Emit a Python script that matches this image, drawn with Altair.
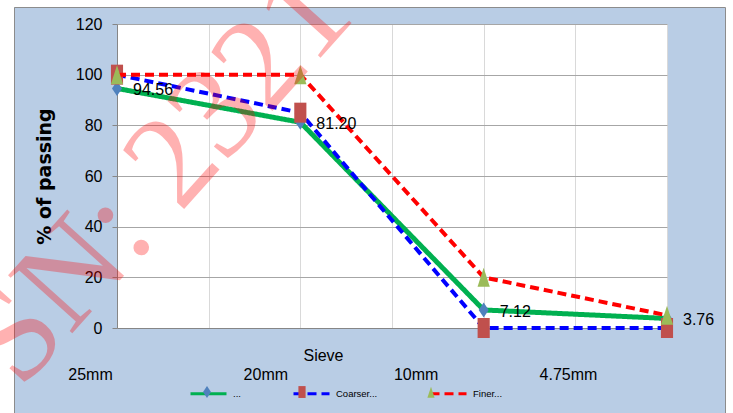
import json
import altair as alt
import pandas as pd

# ---------------- data ----------------
sieves = ["25mm", "20mm", "10mm", "4.75mm"]
series_names = ["...", "Coarser...", "Finer..."]
marker_keys = ["m0", "m1", "m2"]
sample_passing = [94.56, 81.20, 7.12, 3.76]
coarser_limit = [100, 85, 0, 0]
finer_limit = [100, 100, 20, 5]
y_ticks = [0, 20, 40, 60, 80, 100, 120]
x_grid = [0, 0.5, 1, 1.5, 2, 2.5, 3]
watermark = "SN: 2321"

rows = []
for name, key, vals in zip(series_names, marker_keys, [sample_passing, coarser_limit, finer_limit]):
    for i, v in enumerate(vals):
        rows.append({"idx": i, "series": name, "mk": key, "value": v})
df = pd.DataFrame(rows)

# ---------------- styles ----------------
SANS = "Liberation Sans, Arial, sans-serif"
line_colors = ["#00B050", "#0000FF", "#FF0000"]
marker_colors = ["#4F81BD", "#C0504D", "#9BBB59"]
dashes = [[1, 0], [9, 5], [9, 5]]
line_widths = [5, 4, 4]
marker_paths = [
    "M0,-0.33L0.22,0L0,0.33L-0.22,0Z",
    "M-0.2,-0.33L0.2,-0.33L0.2,0.33L-0.2,0.33Z",
    "M0,-0.31L0.2,0.31L-0.2,0.31Z",
]
marker_sizes = [2061, 3672, 3745]

W, H = 550, 304

x_enc = alt.X(
    "idx:Q",
    scale=alt.Scale(domain=[0, 3], nice=False, zero=False),
    axis=alt.Axis(
        values=x_grid,
        labelExpr=f"datum.value % 1 == 0 ? {json.dumps(sieves)}[datum.value] : ''",
        labelOffset=alt.ExprRef(expr="datum.value == 0 ? -27 : datum.value == 1 ? -35 : datum.value == 2 ? -68 : -99"),
        labelFlush=False,
        labelOverlap=False,
        labelBound=False,
        labelPadding=46,
        labelBaseline="middle",
        labelFont=SANS,
        labelFontSize=16,
        labelColor="black",
        ticks=False,
        gridColor="#D9D9D9",
        domainColor="#868686",
        title="Sieve",
        titleFont=SANS,
        titleFontSize=16,
        titleFontWeight="normal",
        titleColor="black",
        titleX=206,
        titleY=27,
        titleAlign="center",
        titleBaseline="middle",
    ),
)
y_enc = alt.Y(
    "value:Q",
    scale=alt.Scale(domain=[0, 120], nice=False),
    axis=alt.Axis(
        values=y_ticks,
        labelFont=SANS,
        labelFontSize=16,
        labelColor="black",
        labelPadding=10,
        tickSize=5,
        tickColor="#868686",
        domainColor="#868686",
        gridColor="#A6A6A6",
        title="% of passing",
        titleFont="DejaVu Sans",
        titleFontSize=19,
        titleFontWeight="bold",
        titleColor="black",
        titleAngle=270,
        titleX=-73,
        titleY=152,
        titleAlign="center",
        titleBaseline="middle",
    ),
)

legend_common = dict(
    orient="none", legendX=72, legendY=350, direction="horizontal", title=None,
    symbolSize=1296, labelFont=SANS, labelFontSize=9.5, labelOffset=5,
    columnPadding=46, padding=0,
)
line_legend = alt.Legend(symbolStrokeWidth=3, symbolType="stroke", labelColor="black", **legend_common)
marker_legend = alt.Legend(
    symbolStrokeWidth=0, symbolOpacity=1, labelOpacity=0,
    labelExpr=f"{json.dumps(series_names)}[indexof({json.dumps(marker_keys)}, datum.label)]",
    **legend_common,
)

color_enc = alt.Color("series:N", scale=alt.Scale(domain=series_names, range=line_colors), legend=line_legend)
dash_enc = alt.StrokeDash("series:N", scale=alt.Scale(domain=series_names, range=dashes), legend=line_legend)
fill_enc = alt.Fill("mk:N", scale=alt.Scale(domain=marker_keys, range=marker_colors), legend=marker_legend)
shape_enc = alt.Shape("mk:N", scale=alt.Scale(domain=marker_keys, range=marker_paths), legend=marker_legend)

base = alt.Chart(df).encode(x=x_enc, y=y_enc)

one = pd.DataFrame({"t": [watermark]})
# white margins outside the blue chart panel, and its grey border
strips = alt.Chart(one).mark_rect(fill="transparent", stroke="white", strokeWidth=40).encode(
    x=alt.value(-123), x2=alt.value(628), y=alt.value(-37), y2=alt.value(440)
)
border = alt.Chart(one).mark_rect(fill="transparent", stroke="#8C8C8C", strokeWidth=1).encode(
    x=alt.value(-102.5), x2=alt.value(608.5), y=alt.value(-16.5), y2=alt.value(420)
)

layers = [strips, border]
for k, name in enumerate(series_names):
    layers.append(
        base.transform_filter(alt.datum.series == name)
        .mark_line(strokeWidth=line_widths[k])
        .encode(color=color_enc, strokeDash=dash_enc)
    )
    layers.append(
        base.transform_filter(alt.datum.series == name)
        .mark_point(filled=True, opacity=1, strokeWidth=0, size=marker_sizes[k])
        .encode(fill=fill_enc, shape=shape_enc)
    )

labels = (
    base.transform_filter(alt.datum.series == series_names[0])
    .mark_text(align="left", baseline="middle", dx=16, dy=2, font=SANS, fontSize=16, color="black")
    .encode(text=alt.Text("value:Q", format=".2f"))
)
layers.append(labels)

wm = alt.Chart(one).mark_text(
    font="Liberation Serif", fontSize=132, color="#FF0000", opacity=0.3,
    angle=312, align="center", baseline="middle",
).encode(x=alt.value(42), y=alt.value(153), text="t:N")
layers.append(wm)

chart = (
    alt.layer(*layers)
    .properties(
        width=W, height=H,
        autosize=alt.AutoSizeParams(type="none"),
        padding={"left": 117, "top": 24, "right": 66, "bottom": 85},
        background="#B9CDE5",
    )
    .configure_view(fill="white", stroke="transparent")
)

chart.save("out.html", embed_options={"renderer": "svg", "actions": False})
